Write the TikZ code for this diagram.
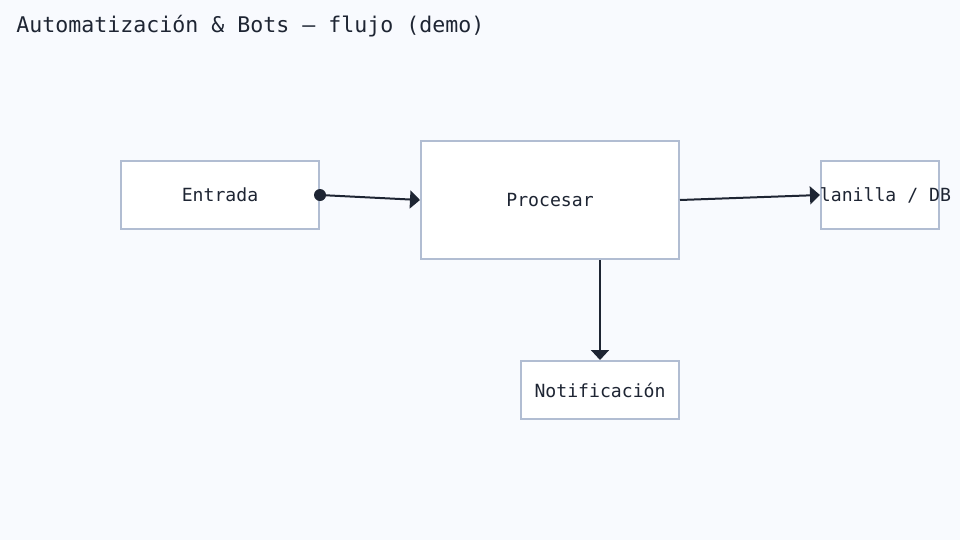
\documentclass[tikz,border=0pt]{standalone}
\usepackage{fontspec}
\setmonofont{DejaVu Sans Mono}
\usetikzlibrary{arrows.meta}
\definecolor{fondo}{HTML}{F8FAFE}
\definecolor{borde}{HTML}{B1BDD2}
\definecolor{tinta}{HTML}{1E2533}
\tikzset{
  caja/.style={draw=borde,line width=1.5pt,fill=white,inner sep=0pt,text=tinta,
    font=\ttfamily\fontsize{13.6pt}{16pt}\selectfont,text depth=0pt},
  flecha/.style={draw=tinta,line width=1.5pt,-{Triangle[length=7.5pt,width=13.5pt]}}
}
\begin{document}
\begin{tikzpicture}[x=0.75pt,y=0.75pt,yscale=-1,xscale=1]
%fondo
\path[fill=fondo,use as bounding box] (0,0) rectangle (960,540);

% Text Node
\node (titulo) [anchor=west,inner sep=0pt,text=tinta,font=\ttfamily\fontsize{16.2pt}{19pt}\selectfont] at (16,26) {Automatización \& Bots — flujo (demo)};

%Shape: Rectangle
\node (entrada) [caja,minimum width=148.5pt,minimum height=51pt] at (220,195) {Entrada};
%Shape: Rectangle
\node (procesar) [caja,minimum width=193.5pt,minimum height=88.5pt] at (550,200) {Procesar};
%Shape: Rectangle
\node (planilla) [caja,minimum width=88.5pt,minimum height=51pt] at (880,195) {};
\begin{scope}
\clip (planilla.north west) rectangle (960,540);
\node (planillatxt) [inner sep=0pt,text=tinta,text depth=0pt,font=\ttfamily\fontsize{13.6pt}{16pt}\selectfont] at (planilla.center) {Planilla / DB};
\end{scope}
%Shape: Rectangle
\node (notif) [caja,minimum width=118.5pt,minimum height=43.5pt] at (600,390) {Notificación};

%Straight Lines
\draw [flecha] (entrada.east) -- (procesar.west);
\fill [tinta] (entrada.east) circle (4.5pt);
%Straight Lines
\draw [flecha] (procesar.east) -- (planilla.west);
%Straight Lines
\draw [flecha] (procesar.south -| notif.north) -- (notif.north);
\end{tikzpicture}
\end{document}
